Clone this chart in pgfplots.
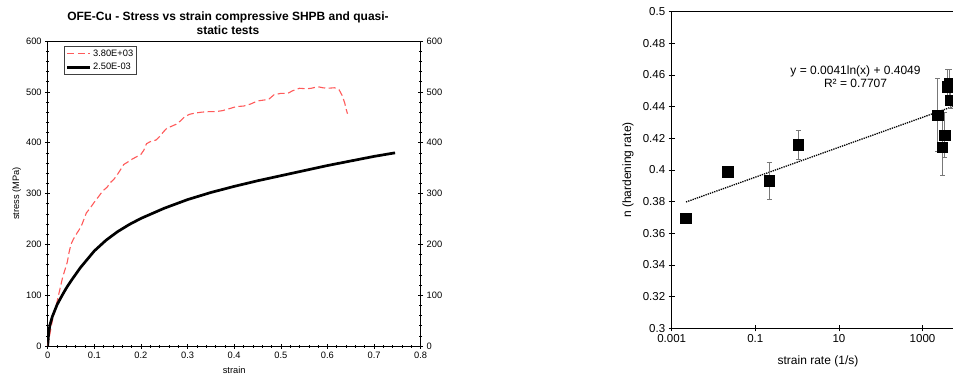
\documentclass[border=0pt]{standalone}
\usepackage{fontspec}
\setmainfont{Liberation Sans}
\usepackage{pgfplots}
\pgfplotsset{compat=1.18}
\definecolor{dashred}{RGB}{255,90,90}
\definecolor{errgray}{RGB}{120,120,120}

\begin{document}
\begin{tikzpicture}
\useasboundingbox (0,0) rectangle (953pt,375pt);
\clip (0,0) rectangle (953pt,375pt);

\node[font=\bfseries\fontsize{12}{14.7}\selectfont, align=center] at (228pt,351.7pt)
  {OFE-Cu - Stress vs strain compressive SHPB and quasi-\\static tests};

% ---------- left chart ----------
\begin{axis}[
  at={(47.7pt,29pt)}, anchor=south west, scale only axis,
  width=373pt, height=305pt,
  xmin=0, xmax=0.8, ymin=0, ymax=600,
  xtick={0,0.1,0.2,0.3,0.4,0.5,0.6,0.7,0.8},
  ytick={0,100,200,300,400,500,600},
  minor x tick num=4, minor y tick num=4,
  xtick pos=left, ytick pos=left,
  tick align=center, major tick length=5pt, minor tick length=3pt,
  tick style={black, line width=0.6pt},
  axis line style={line width=0.9pt},
  ticklabel style={font=\fontsize{9.3}{10}\selectfont},
  /pgf/number format/assume math mode=true,
  xticklabel style={/pgf/number format/.cd, fixed, precision=1},
  xlabel={strain}, ylabel={stress (MPa)},
  label style={font=\fontsize{9.3}{10}\selectfont},
  xlabel style={at={(axis description cs:0.5,-0.0787)}, anchor=center},
  ylabel style={at={(axis description cs:-0.0831,0.5)}, anchor=center},
  legend style={at={(rel axis cs:0.0437,0.9836)}, anchor=north west,
    draw=black!75, line width=0.9pt, font=\fontsize{9.3}{10}\selectfont,
    inner xsep=1.5pt, inner ysep=2pt, row sep=2.5pt,
    nodes={inner sep=1.5pt}},
  legend cell align=left,
  legend image code/.code={\draw[#1] (0pt,0pt) -- (23pt,0pt);},
]
\addplot[dashred, line width=1.1pt, dash pattern=on 7pt off 3.5pt] coordinates {
(0,0) (0.01,50) (0.017,75) (0.022,95) (0.027,115) (0.032,135) (0.037,150)
(0.042,165) (0.046,185) (0.05,200) (0.055,210) (0.06,218) (0.067,228)
(0.073,238) (0.078,250) (0.083,262) (0.09,270) (0.1,283) (0.11,295)
(0.118,305) (0.127,312) (0.135,322) (0.142,328) (0.15,338) (0.157,348)
(0.163,357) (0.172,362) (0.18,367) (0.19,372) (0.2,377) (0.206,385)
(0.212,398) (0.22,402) (0.232,405) (0.24,412) (0.247,420) (0.255,428)
(0.265,432) (0.275,436) (0.285,443) (0.295,452) (0.305,456) (0.315,458)
(0.33,460) (0.345,461) (0.36,461) (0.375,463) (0.39,467) (0.405,471)
(0.42,472) (0.435,476) (0.45,482) (0.465,484) (0.475,486) (0.485,494)
(0.5,497) (0.515,497) (0.525,502) (0.54,507) (0.555,506) (0.565,507)
(0.58,510) (0.59,508) (0.6,507) (0.615,508) (0.625,504) (0.632,492)
(0.637,478) (0.641,463) (0.643,457)
};
\addlegendentry{3.80E+03}
\addplot[black, line width=2.7pt] coordinates {
(0,0) (0.002,25) (0.005,42) (0.01,58) (0.02,81) (0.03,98) (0.04,114)
(0.05,128) (0.07,154) (0.1,187) (0.125,208) (0.15,225) (0.175,239)
(0.2,251) (0.25,271) (0.3,288) (0.35,302) (0.4,314) (0.45,325)
(0.5,335) (0.55,345) (0.6,355) (0.65,364) (0.7,373) (0.745,380)
};
\addlegendentry{2.50E-03}
\end{axis}

% right-hand labels of the left chart
\begin{axis}[
  at={(47.7pt,29pt)}, anchor=south west, scale only axis,
  width=373pt, height=305pt,
  xmin=0, xmax=0.8, ymin=0, ymax=600,
  axis x line=none, axis y line*=right,
  ytick={0,100,200,300,400,500,600}, minor y tick num=4,
  tick align=center, major tick length=5pt, minor tick length=3pt,
  tick style={black, line width=0.6pt},
  axis line style={line width=0.9pt},
  ticklabel style={font=\fontsize{9.3}{10}\selectfont},
  /pgf/number format/assume math mode=true,
]
\addplot[draw=none] coordinates {(0,0)};
\end{axis}

% ---------- right chart ----------
\begin{axis}[
  at={(671.7pt,46.7pt)}, anchor=south west, scale only axis,
  width=292.6pt, height=316.6pt,
  xmode=log, log basis x=10,
  xmin=0.001, xmax=10000, ymin=0.3, ymax=0.5,
  xtick={0.001,0.1,10,1000}, xticklabels={0.001,0.1,10,1000},
  xminorticks=false,
  ytick={0.3,0.32,0.34,0.36,0.38,0.4,0.42,0.44,0.46,0.48,0.5},
  yticklabel style={/pgf/number format/.cd, fixed, precision=2},
  xtick pos=left, ytick pos=left,
  tick align=center, major tick length=6pt,
  tick style={black, line width=0.8pt},
  axis line style={line width=1pt},
  ticklabel style={font=\fontsize{11.5}{12}\selectfont},
  /pgf/number format/assume math mode=true,
  xlabel={strain rate (1/s)}, ylabel={n (hardening rate)},
  label style={font=\fontsize{12}{13}\selectfont},
  xlabel style={at={(axis description cs:0.5,-0.1055)}, anchor=center},
  ylabel style={at={(axis description cs:-0.1494,0.5)}, anchor=center},
]
\addplot[black, densely dotted, line width=1.3pt] coordinates {(0.0022,0.3798) (10000,0.4427)};
\addplot[only marks, mark=square*, mark size=5.3pt, black,
  error bars/.cd, y dir=both, y explicit,
  error bar style={errgray, line width=0.8pt},
  error mark options={rotate=90, errgray, mark size=2.5pt, line width=0.8pt}]
coordinates {
(0.00216,0.3695) +- (0,0.001)
(0.0215,0.3988) +- (0,0.002)
(0.0225,0.3992) +- (0,0.002)
(0.214,0.3931) +- (0,0.0117)
(1.07,0.4158) +- (0,0.0093)
(2323,0.4347) +- (0,0.023)
(2958,0.4143) +- (0,0.0175)
(3357,0.4221) +- (0,0.014)
(4027,0.4526) +- (0,0.011)
(4390,0.4547) +- (0,0.009)
(4603,0.4442) +- (0,0.005)
};
\node[align=center, font=\fontsize{12}{12.8}\selectfont] at (axis cs:25,0.4587)
  {y = 0.0041ln(x) + 0.4049\\R² = 0.7707};
\end{axis}
\end{tikzpicture}
\end{document}
